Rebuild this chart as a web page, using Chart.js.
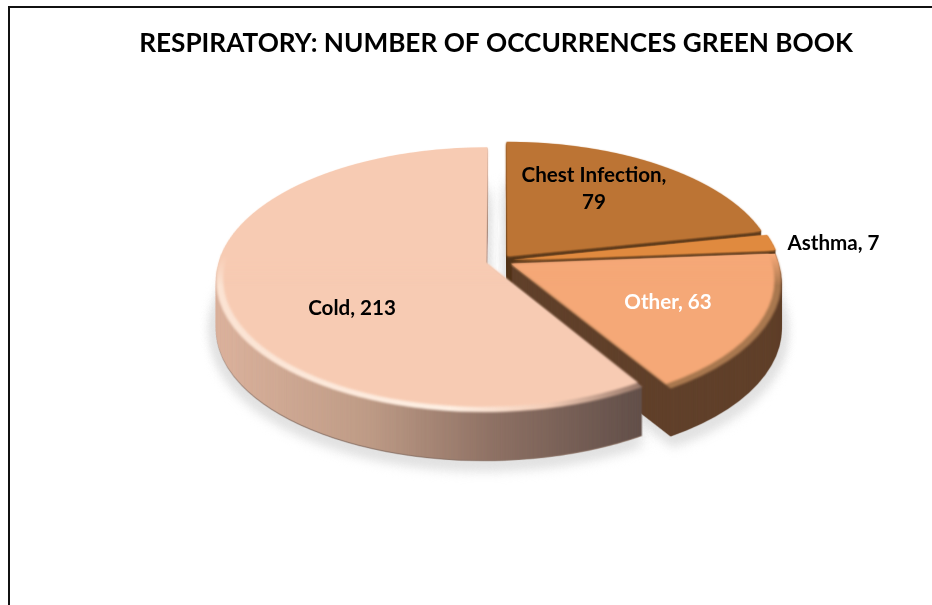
<!DOCTYPE html>
<html>
<head>
<meta charset="utf-8">
<title>Respiratory occurrences</title>
<script src="https://cdn.jsdelivr.net/npm/chart.js@4"></script>
<style>
    html, body { margin: 0; padding: 0; background: #fff; overflow: hidden; }
    #wrap { position: relative; width: 932px; height: 605px; }
    #frame { position: absolute; left: 8px; top: 6px; right: 0; bottom: 0; border-left: 2px solid #111; border-top: 2px solid #111; }
    #pie { position: absolute; left: 0; top: 0; }
</style>
</head>
<body>
<div id="wrap">
    <div id="frame"></div>
    <canvas id="pie" width="932" height="605"></canvas>
</div>
<script>
// slices listed clockwise from 12 o'clock
var categories = ['Chest Infection', 'Asthma', 'Other', 'Cold'];
var occurrences = [79, 7, 63, 213];
var sliceColors = ['#bc7434', '#e08a3f', '#f5a877', '#f7cbb3'];
var wallColors = ['#53351a', '#53351a', '#62422c', '#8f7265'];
var lipColors = ['#bc7434', '#e08a3f', '#a9784f', '#fff0e4'];

// the flat pie is tilted back: points further away shrink towards the horizon
var PERSPECTIVE = 0.1255;
var TILT_HEIGHT = 129.4;
var DEPTH = 49;
var EXPLODE = 13.5;
var SHIFT_X = 3;
var FLAT = 720;
var W = 932, H = 605;

function newCanvas(w, h) {
    var c = document.createElement('canvas');
    c.width = w;
    c.height = h;
    return c;
}

// paints one library arc, seen from straight above, on a square canvas.
// the arc's own offset option also fattens the radius, so slices are moved out here
function flatSlice(arc, fill, grow) {
    var flat = newCanvas(FLAT, FLAT);
    var fx = flat.getContext('2d');
    var mid = (arc.startAngle + arc.endAngle) / 2;
    var ax = FLAT / 2 + Math.cos(mid) * EXPLODE;
    var ay = FLAT / 2 + Math.sin(mid) * EXPLODE;
    var saved = arc.options;
    fx.translate(ax, ay);
    fx.scale(grow, grow);
    fx.translate(-arc.x, -arc.y);
    arc.options = Object.assign({}, saved, { backgroundColor: fill });
    arc.draw(fx);
    arc.options = saved;
    return flat;
}

// row by row perspective warp into a double size layer
function tilted(arc, fill, grow) {
    var flat = flatSlice(arc, fill, grow);
    var out = newCanvas(W * 2, H * 2);
    var ox = out.getContext('2d');
    var x0 = arc.x + SHIFT_X;
    var y0 = arc.y;
    var R = arc.outerRadius;
    function vAt(row) {
        var y = row / 2 - y0;
        return y / (TILT_HEIGHT + PERSPECTIVE * y);
    }
    for (var row = 0; row < H * 2; row++) {
        var v1 = vAt(row), v2 = vAt(row + 1);
        if (Math.abs(v1) > 1.1 || Math.abs(v2) > 1.1) continue;
        var k = 1 / (1 - PERSPECTIVE * v1);
        ox.drawImage(flat, 0, FLAT / 2 + v1 * R, FLAT, (v2 - v1) * R,
            2 * x0 - FLAT * k, row, 2 * FLAT * k, 1);
    }
    return out;
}

function tint(layer, fill, mode) {
    var x = layer.getContext('2d');
    x.save();
    x.globalCompositeOperation = mode || 'source-in';
    x.scale(2, 2);
    x.fillStyle = fill;
    x.fillRect(0, 0, W, H);
    x.restore();
    return layer;
}

function horizontalFill(ctx, stops) {
    var g = ctx.createLinearGradient(218, 0, 640, 0);
    stops.forEach(function(s) { g.addColorStop(s[0], s[1]); });
    return g;
}

function put(ctx, layer, shift, blur) {
    ctx.save();
    if (blur) ctx.filter = 'blur(' + blur + 'px)';
    ctx.drawImage(layer, 0, shift, W, H);
    ctx.restore();
}

var pie3d = {
    id: 'pie3d',
    beforeDatasetsDraw: function(chart) {
        var ctx = chart.ctx;
        var arcs = chart.getDatasetMeta(0).data;
        var i, k;

        // soft ground shadow under the whole pie
        for (i = 0; i < arcs.length; i++) {
            var ground = tilted(arcs[i], '#e2e2e2', 1.012);
            for (k = 40; k <= 58; k += 6) put(ctx, ground, k, 6);
        }

        // back slices first, Cold last so it sits in front
        for (i = 0; i < arcs.length; i++) {
            var arc = arcs[i];
            var isCold = categories[i] === 'Cold';
            var wall = tilted(arc, wallColors[i], 1);
            if (isCold) {
                put(ctx, tint(tilted(arc, '#000', 1), 'rgba(110,78,62,0.75)'), DEPTH + 1, 0.6);
                tint(wall, horizontalFill(ctx, [[0, '#dbb29d'], [0.35, '#bf9c87'], [0.65, '#8f7265'], [1, '#63504a']]));
            }
            for (k = DEPTH; k >= 1; k--) put(ctx, wall, k);

            // bevel on the rim, brightest along the front edge; scaling about the
            // apex keeps the cut edges where they are
            var lip = tilted(arc, lipColors[i], 1);
            if (isCold) tint(lip, horizontalFill(ctx, [[0, '#fbe3d3'], [0.55, '#fff0e4'], [0.78, '#f4cdb7'], [1, '#9c7b6c']]));
            put(ctx, lip, 1, 1);
            put(ctx, tilted(arc, sliceColors[i], 0.975), 0, 0.9);

            // the back edge has no bevel, fade the full disc in over it
            var back = tilted(arc, sliceColors[i], 1);
            var fade = ctx.createLinearGradient(0, arc.y - 5, 0, arc.y + 25);
            fade.addColorStop(0, 'rgba(0,0,0,1)');
            fade.addColorStop(1, 'rgba(0,0,0,0)');
            put(ctx, tint(back, fade, 'destination-in'), 0, 0.5);
        }
        return false;
    },
    // cancelling the dataset draw also skips afterDatasetsDraw, so text goes here
    afterDraw: function(chart, args, opts) {
        var ctx = chart.ctx;
        ctx.save();
        ctx.textAlign = 'center';
        ctx.textBaseline = 'middle';
        ctx.font = opts.font;
        opts.items.forEach(function(item) {
            ctx.fillStyle = item.color;
            item.lines.forEach(function(line, n) {
                ctx.fillText(line, item.x, item.y + n * opts.lineHeight);
            });
        });
        ctx.restore();
    }
};

new Chart(document.getElementById('pie').getContext('2d'), {
    type: 'pie',
    data: {
        labels: categories,
        datasets: [{
            data: occurrences,
            backgroundColor: sliceColors,
            borderWidth: 0
        }]
    },
    options: {
        responsive: false,
        animation: false,
        events: [],
        radius: 267,
        layout: { padding: { left: 60, top: 0, bottom: 143 } },
        plugins: {
            legend: { display: false },
            tooltip: { enabled: false },
            title: {
                display: true,
                text: 'RESPIRATORY: NUMBER OF OCCURRENCES GREEN BOOK',
                color: '#000',
                font: { family: 'Lato', size: 26.2, weight: 'bold' },
                padding: { top: 28, bottom: 0 }
            },
            pie3d: {
                font: 'bold 20.6px Lato',
                lineHeight: 27,
                items: [
                    { lines: ['Chest Infection,', '79'], x: 594, y: 175, color: '#000' },
                    { lines: ['Asthma, 7'], x: 833.5, y: 243, color: '#000' },
                    { lines: ['Other, 63'], x: 668, y: 302, color: '#fff' },
                    { lines: ['Cold, 213'], x: 352, y: 308, color: '#000' }
                ]
            }
        }
    },
    plugins: [pie3d]
});
</script>
</body>
</html>
